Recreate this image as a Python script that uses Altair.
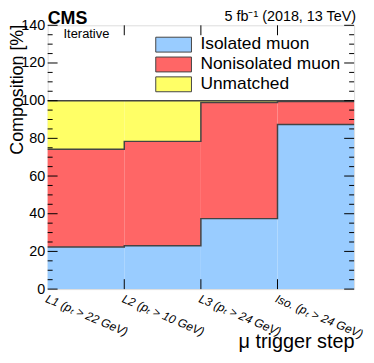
import json
import altair as alt
import pandas as pd

# ---------------- data ----------------
step_labels = ["L1 (pₜ > 22 GeV)", "L2 (pₜ > 10 GeV)", "L3 (pₜ > 24 GeV)", "Iso. (pₜ > 24 GeV)"]
components = ["Isolated muon", "Nonisolated muon", "Unmatched"]
isolated = [22.4, 23.0, 37.4, 87.4]
nonisolated = [51.8, 55.4, 61.6, 12.2]
unmatched = [25.8, 21.6, 1.0, 0.4]
colors = ["#99ccff", "#ff6666", "#ffff66"]
y_major = [0, 20, 40, 60, 80, 100, 120, 140]
y_minor = [v for v in range(0, 141, 5) if v % 20]
x_edges = [1, 2, 3]

W, H = 309, 266
FONT = "Liberation Sans"

series = [isolated, nonisolated, unmatched]
rows = []
cums = [[], [], []]
for i in range(len(step_labels)):
    lo = 0.0
    for k, (comp, vals) in enumerate(zip(components, series)):
        hi = lo + vals[i]
        rows.append(dict(x0=i, x1=i + 1, lo=lo, hi=hi, comp=comp))
        cums[k].append(hi)
        lo = hi
df = pd.DataFrame(rows)

line_rows = []
for k, c in enumerate(cums):
    for i in range(len(step_labels) + 1):
        line_rows.append(dict(x0=i, lo=c[min(i, len(c) - 1)], s=k))
ldf = pd.DataFrame(line_rows)

xscale = alt.Scale(domain=[0, 4], nice=False, zero=False)
yscale = alt.Scale(domain=[0, 140], nice=False)

label_expr = json.dumps(step_labels) + "[datum.value]"

X_AXIS = alt.Axis(values=[0, 1, 2, 3], labelExpr=label_expr,
                  title="μ trigger step", titleX=W, titleY=59,
                  titleAlign="right", titleBaseline="alphabetic",
                  titleFontSize=20, titleFontWeight="normal",
                  labelAngle=23, labelAlign="left", labelBaseline="top",
                  labelFontSize=12, labelFontStyle="italic", labelPadding=4,
                  labelFlush=False, labelOverlap=False,
                  ticks=False, domain=False, grid=False)
Y_AXIS = alt.Axis(values=y_major, title="Composition [%]",
                  titleAngle=270, titleAlign="right", titleBaseline="alphabetic",
                  titleX=-25, titleY=-1, titleFontSize=18, titleFontWeight="normal",
                  labelFontSize=14.5, labelPadding=3,
                  ticks=False, domain=False, grid=False)


def X(field):
    return alt.X(field, scale=xscale, axis=X_AXIS, title="μ trigger step")


def Y(field):
    return alt.Y(field, scale=yscale, axis=Y_AXIS, title="Composition [%]")


fills = alt.Chart(df).mark_rect(strokeWidth=0).encode(
    x=X("x0:Q"), x2="x1:Q", y=Y("lo:Q"), y2="hi:Q",
    color=alt.Color("comp:N", scale=alt.Scale(domain=components, range=colors), legend=None),
)

lines = alt.Chart(ldf).mark_line(interpolate="step-after", color="#444444", strokeWidth=1.5).encode(
    x=X("x0:Q"), y=Y("lo:Q"), detail="s:N",
)

ymaj = pd.DataFrame({"lo": y_major})
ymin = pd.DataFrame({"lo": y_minor})
xmaj = pd.DataFrame({"x0": x_edges})


def yticks(d, x0, x1):
    return alt.Chart(d).mark_rule(color="black", strokeWidth=1).encode(
        y=Y("lo:Q"), x=alt.value(x0), x2=alt.value(x1))


def xticks(d, y0, y1):
    return alt.Chart(d).mark_rule(color="black", strokeWidth=1).encode(
        x=X("x0:Q"), y=alt.value(y0), y2=alt.value(y1))


ticks = [
    yticks(ymaj, 0, 10), yticks(ymin, 0, 5),
    yticks(ymaj, W - 10, W), yticks(ymin, W - 5, W),
    xticks(xmaj, H, H - 10), xticks(xmaj, 0, 10),
]


def text(s, x, y, size, align="left", weight="normal", baseline="alphabetic"):
    return alt.Chart(pd.DataFrame({"t": [s]})).mark_text(
        align=align, baseline=baseline, fontSize=size, fontWeight=weight,
        font=FONT, color="black").encode(text="t:N", x=alt.value(x), y=alt.value(y))


texts = [
    text("CMS", 0, -1, 18, weight="bold"),
    text("5 fb⁻¹ (2018, 13 TeV)", 311, -4, 14.5, align="right"),
    text("Iterative", 16, 13, 13),
]

legend = []
for i, (comp, col) in enumerate(zip(components, colors)):
    legend.append(
        alt.Chart(pd.DataFrame({"t": [comp]})).mark_rect(
            fill=col, stroke="#444444", strokeWidth=1).encode(
            x=alt.value(109), x2=alt.value(145),
            y=alt.value(12 + 20 * i), y2=alt.value(27 + 20 * i)))
    legend.append(text(comp, 154, 19 + 20 * i, 17.5, baseline="middle"))

chart = alt.layer(fills, lines, *ticks, *texts, *legend).properties(
    width=W, height=H,
    autosize=alt.AutoSizeParams(type="none"),
    padding={"left": 40, "top": 16, "right": 12, "bottom": 64},
).configure_view(stroke="black", strokeWidth=1).configure(
    font=FONT
).configure_axis(labelColor="black", titleColor="black", labelFont=FONT, titleFont=FONT)

chart.save("out.html", embed_options={"renderer": "svg", "actions": False})
